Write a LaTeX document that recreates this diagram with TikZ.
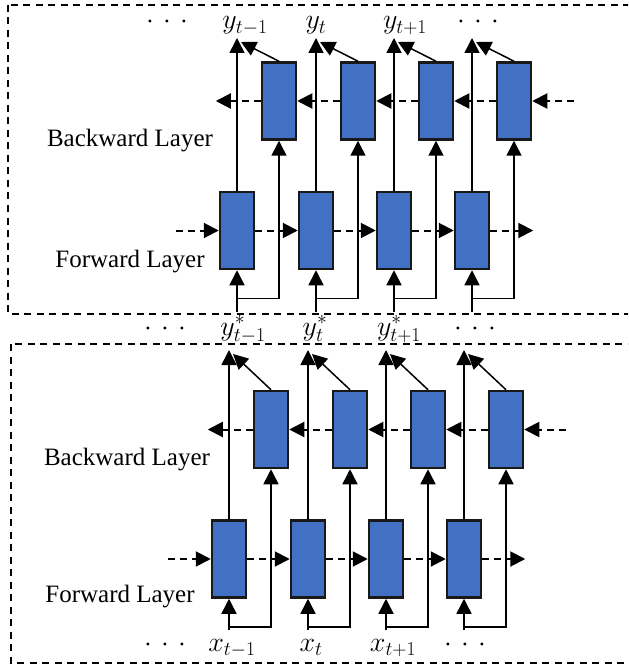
\RequirePackage{fix-cm}
\documentclass[tikz,border=0pt]{standalone}
\usepackage{fontspec}
\setmainfont{Liberation Serif}
\usetikzlibrary{arrows.meta, positioning}
\definecolor{colorCell}{RGB}{66,112,194}
\colorlet{colorEdge}{black!90}
\newcommand{\etcdots}{${\cdot}\mkern6mu{\cdot}\mkern6mu{\cdot}$}
\tikzset{
  cell/.style={draw=colorEdge, line width=2.5pt, fill=colorCell, minimum width=34pt, minimum height=77pt, inner sep=0pt},
  flow/.style={-{Triangle[width=15pt,length=15pt]}, line width=1.5pt},
  recur/.style={flow, line width=2pt, dash pattern=on 7pt off 5pt},
  frame/.style={line width=2pt, dash pattern=on 7pt off 5.5pt},
  layer/.style={font=\fontsize{25}{30}\selectfont, anchor=base},
  seq/.style={font=\fontsize{28}{33}\selectfont, anchor=base},
}

\begin{document}
\begin{tikzpicture}[x=1pt, y=-1pt]
\useasboundingbox (0,0) rectangle (628,668);
\clip (0,0) rectangle (628,668);
% the two stacked bidirectional layers
\draw[frame] (8,5) rectangle (660,314);
\draw[frame] (11,344) rectangle (660,663);
\foreach \k/\dx/\dy/\tip/\src in {u/0/0/38/312, d/-8/328.5/350/630} {
  \foreach \i/\xf in {1/237, 2/316, 3/394, 4/472} {
    \node[cell] (f\k\i) at (\xf+\dx, 230.5+\dy) {};
    \node[cell] (b\k\i) at (\xf+\dx+42, 101+\dy) {};
    \coordinate (o\k\i) at (\xf+\dx, \tip);
    \coordinate (i\k\i) at (\xf+\dx, \src);
    \draw[flow] (f\k\i) -- (o\k\i);
    \draw[flow] (b\k\i.north) -- ([xshift=4pt, yshift=-4pt]o\k\i);
    \draw[flow] (i\k\i) -- (f\k\i.south);
    \draw[flow] ([yshift=-28pt]f\k\i.south) -| (b\k\i.south);
  }
  % recurrent connections
  \draw[recur] ([xshift=-43pt]f\k1.west) -- (f\k1.west);
  \draw[recur] (f\k4.east) -- ([xshift=43pt]f\k4.east);
  \draw[recur] ([xshift=42pt]b\k4.east) -- (b\k4.east);
  \draw[recur] (b\k1.west) -- ([xshift=-45pt]b\k1.west);
  \foreach \j/\i in {1/2, 2/3, 3/4} {
    \draw[recur] (f\k\j) -- (f\k\i);
    \draw[recur] (b\k\i) -- (b\k\j);
  }
}
\node[layer] (bwdu) at (130,147) {Backward Layer};
\node[layer] (fwdu) at (130,267) {Forward Layer};
\node[layer] (bwdd) at (127,465) {Backward Layer};
\node[layer] (fwdd) at (120,602) {Forward Layer};
% outputs, hidden sequence, inputs
\node[seq] (yu0) at (167,29) {\etcdots};
\node[seq] (yu1) at (245,29) {$y_{t-1}$};
\node[seq] (yu2) at (316,29) {$y_t$};
\node[seq] (yu3) at (405,29) {$y_{t+1}$};
\node[seq] (yu4) at (478,29) {\etcdots};
\node[seq] (hd0) at (165,335) {\etcdots};
\node[seq] (hd1) at (243,335) {$y^*_{t-1}$};
\node[seq] (hd2) at (315,335) {$y^*_t$};
\node[seq] (hd3) at (399,335) {$y^*_{t+1}$};
\node[seq] (hd4) at (475,335) {\etcdots};
\node[seq] (xd0) at (165,651) {\etcdots};
\node[seq] (xd1) at (232,651) {$x_{t-1}$};
\node[seq] (xd2) at (311,651) {$x_t$};
\node[seq] (xd3) at (393,651) {$x_{t+1}$};
\node[seq] (xd4) at (465,651) {\etcdots};
\end{tikzpicture}
\end{document}
